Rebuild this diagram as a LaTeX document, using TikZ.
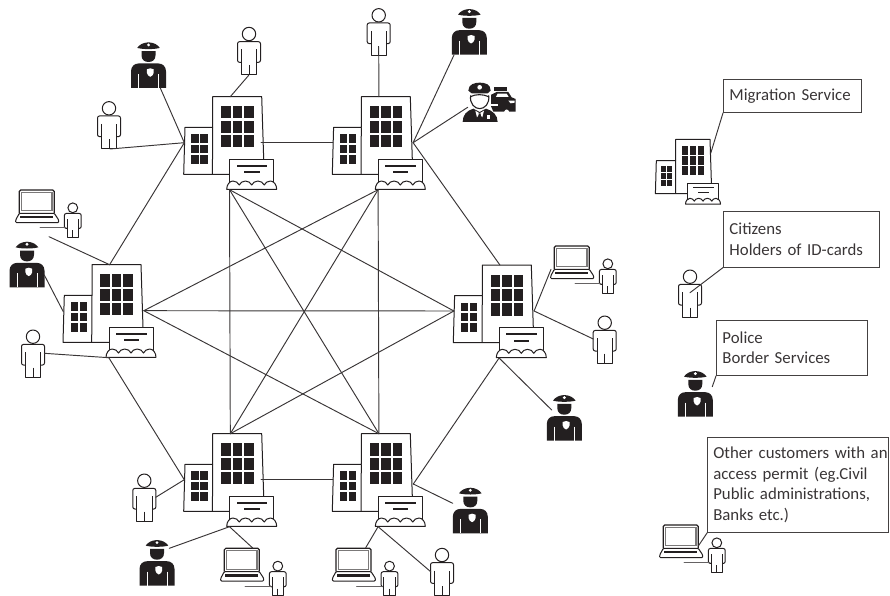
\documentclass[tikz,border=0pt]{standalone}
\usepackage{fontspec}
\setmainfont[WordSpace=0.6]{Carlito}
\definecolor{ink}{HTML}{231F20}
\tikzset{
  ln/.style={draw=ink!90!white,line width=0.95pt,line cap=round},
  outl/.style={draw=ink,line width=1pt,line join=round},
  lbl/.style={draw=ink!85!white,line width=0.9pt,anchor=north west,inner xsep=6pt,inner ysep=0pt,align=left,
    font=\fontsize{16.8}{20.5}\selectfont,text=ink!90!white},
  building/.pic={
    \draw[outl,fill=white] (-27.7,30.6) -- (0,30.6) -- (0,0) -- (49,0) -- (51,62.6) -- (51,77.6) -- (-29,77.6) -- cycle;
    \draw[outl] (0,30.6) -- (-0.3,77.6);
    \foreach \c in {0,1,2} \foreach \r in {0,1,2}
      \fill[ink] (8.3+11.5*\c,9.6+14.35*\r) rectangle +(9.5,12.2);
    \foreach \c in {0,1} \foreach \r in {0,1,2}
      \fill[ink] (-21.4+9*\c,37.6+10.35*\r) rectangle +(7.2,8.5);
    \draw[outl,fill=white] (17,86) -- (17,62.6) -- (61,62.6) -- (61,86);
    \draw[outl,fill=white] (14,92.6) .. controls (14,88) and (17,84.3) .. (20.2,84.3)
      .. controls (23,84.3) and (25.5,86) .. (26.5,88.3)
      .. controls (27.5,86) and (30,84.3) .. (32.7,84.3)
      .. controls (35.5,84.3) and (38,86) .. (39,88.3)
      .. controls (40,86) and (42.5,84.3) .. (45.2,84.3)
      .. controls (48,84.3) and (50.5,86) .. (51.5,88.3)
      .. controls (52.5,86) and (55,84.3) .. (57.7,84.3)
      .. controls (61,84.3) and (64,88) .. (64,92.6) -- cycle;
    \fill[ink] (24,68) rectangle (54.6,70);
    \fill[ink] (31.6,74.7) rectangle (47,76.5);
    \coordinate (-l) at (-28.4,46);
    \coordinate (-r) at (48.5,46);
    \coordinate (-o) at (51.8,46);
    \coordinate (-t) at (17.6,0);
    \coordinate (-s) at (16.8,93);
  },
  person/.pic={
    \draw[outl] (0,0) circle (6.7);
    \draw[outl,rounded corners=2pt] (-7.7,28.3) -- (-11.5,28.3) -- (-11.5,7.7) -- (11.5,7.7) -- (11.5,28.3) -- (7.7,28.3);
    \draw[outl] (-7.7,15.5) -- (-7.7,40.7) -- (7.7,40.7) -- (7.7,15.5);
    \draw[outl] (0,31) -- (0,40.7);
  },
  officer/.pic={
    \fill[ink] (-11.3,5.6) .. controls (-9,2.5) and (-6,0.4) .. (0,0)
      .. controls (6,0.4) and (9,2.5) .. (11.3,5.6) .. controls (6,7.2) and (-6,7.2) .. (-11.3,5.6) -- cycle;
    \fill[white] (0,2.6) circle (1.6);
    \fill[ink] (-7,8.8) -- (7,8.8) -- (7,13) .. controls (7,17.5) and (4,19.7) .. (0,19.7)
      .. controls (-4,19.7) and (-7,17.5) .. (-7,13) -- cycle;
    \fill[ink] (-17.5,45.7) -- (-17.5,29) .. controls (-17.5,24) and (-14,21.2) .. (-10,21.2)
      -- (10,21.2) .. controls (14,21.2) and (17.5,24) .. (17.5,29) -- (17.5,45.7) -- cycle;
    \draw[white,line width=1pt] (-10,31.7) -- (-10,45.7) (10,31.7) -- (10,45.7);
    \fill[white] (-1.6,27) -- (1.8,26) -- (5.2,27) -- (5.2,30.5) .. controls (5,32.5) and (3.5,33.7) .. (1.8,34.5)
      .. controls (0,33.7) and (-1.4,32.5) .. (-1.6,30.5) -- cycle;
  },
  laptop/.pic={
    \draw[ink,line width=1.2pt,rounded corners=1.5pt,fill=white] (0,23.3) -- (0,0) -- (35,0) -- (35,23.3);
    \draw[ink!60!white,line width=1.1pt] (2.3,2.3) rectangle (32.7,20.8);
    \draw[outl,rounded corners=1pt,fill=white] (0,23.3) -- (-3.6,30) -- (-3.6,32.7) -- (39.4,32.7) -- (39.4,30) -- (35,23.3) -- cycle;
    \fill[ink] (1,25.8) rectangle (34,28.3);
    \pic[scale=0.73] at (53.5,17.8) {person};
    \draw[ln,ink!70!white] (20.7,37.8) -- (46.5,37.8);
  },
}
\begin{document}
\begin{tikzpicture}[x=1pt,y=-1pt]
\useasboundingbox (0,0) rectangle (890,596);
% buildings
\pic (b1) at (212.7,96.7) {building};
\pic (b2) at (361.3,96.7) {building};
\pic (b3) at (92,264.7) {building};
\pic (b4) at (482.3,265) {building};
\pic (b5) at (212.7,433.7) {building};
\pic (b6) at (361.3,433.7) {building};
\pic[scale=0.7] (bl) at (675.7,139.3) {building};
% persons
\pic at (249,34) {person};
\pic at (109,108.3) {person};
\pic at (378.7,15.3) {person};
\pic at (33,336.7) {person};
\pic at (144.3,480.7) {person};
\pic at (442,555) {person};
\pic at (604.7,322.7) {person};
\pic at (690,276.7) {person};
% officers
\pic at (148.5,42.3) {officer};
\pic at (469.3,9) {officer};
\pic at (27,241.7) {officer};
\pic at (157,540) {officer};
\pic at (470.3,487.7) {officer};
\pic at (564.3,395) {officer};
\pic at (695.3,371) {officer};
% laptops
\pic at (19.3,190) {laptop};
\pic at (554.3,246) {laptop};
\pic at (224.3,548.3) {laptop};
\pic at (336,548.3) {laptop};
\pic at (663.3,525) {laptop};
% officer with patrol car
\begin{scope}[shift={(320,0)},x=0.3333pt,y=-0.3333pt]
  \fill[ink] (523,262) rectangle (562,272);
  \fill[ink] (512,285) -- (530,276) -- (565,276) -- (575,292) -- (587,297) -- (587,335) -- (568,335)
    .. controls (565,326) and (555,326) .. (552,335) -- (520,335) -- (505,300) -- cycle;
  \fill[white] (533,281) -- (560,281) -- (566,291) -- (528,291) -- cycle;
  \fill[white] (565,302) -- (584,302) -- (584,308) -- (572,310) -- cycle;
  \fill[white] (512,312) rectangle (534,317);
  \fill[white] (446,285) -- (512,285) -- (512,345) -- (446,345) -- cycle;
  \fill[ink] (445,272) .. controls (445,252) and (465,248) .. (479,248)
    .. controls (495,248) and (512,252) .. (512,272) -- (503,280) -- (455,280) -- cycle;
  \fill[white] (479,262) circle (7);
  \draw[ink,line width=1.1pt] (452,286) .. controls (448,312) and (465,326) .. (479,326)
    .. controls (493,326) and (510,312) .. (506,286);
  \draw[ink,line width=1.1pt] (452,290) .. controls (465,282) and (490,282) .. (506,290);
  \fill[ink] (428,366) .. controls (428,345) and (440,332) .. (460,326) -- (479,336) -- (498,326)
    .. controls (518,332) and (533,345) .. (533,366) -- cycle;
  \fill[white] (466,332) -- (479,340) -- (492,332) -- (487,352) -- (479,342) -- (471,352) -- cycle;
  \fill[ink] (476,340) -- (482,340) -- (484,366) -- (474,366) -- cycle;
  \fill[white] (500,345) rectangle (511,358);
\end{scope}
% spoke ends
\coordinate (a1) at (248.7,75.3);
\coordinate (a2) at (160.3,88);
\coordinate (a3) at (110,149);
\coordinate (a4) at (378.7,46.7);
\coordinate (a5) at (454,55);
\coordinate (a6) at (467.7,107.3);
\coordinate (a7) at (49,236.7);
\coordinate (a8) at (44.3,275);
\coordinate (a9) at (44.3,353.3);
\coordinate (a10) at (551,269.3);
\coordinate (a11) at (593.3,339);
\coordinate (a12) at (551.7,410);
\coordinate (a13) at (155.7,497.3);
\coordinate (a14) at (169.3,548.3);
\coordinate (a15) at (252.7,548);
\coordinate (a16) at (365.7,547.7);
\coordinate (a17) at (430.7,571.7);
\coordinate (a18) at (452.7,503.3);
\coordinate (b3left) at (63.3,311.7);
\coordinate (b6out) at (413.3,484);
% ring
\draw[ln] (b1-r) -- (b2-l);
\draw[ln] (b1-l) -- (b3-t);
\draw[ln] (b3-s) -- (b5-l);
\draw[ln] (b5-r) -- (b6-l);
\draw[ln] (b6out) -- (b4-s);
\draw[ln] (b4-t) -- (b2-o);
% mesh
\draw[ln] (b1-s) -- (b5-t);
\draw[ln] (b1-s) -- (b4-l);
\draw[ln] (b1-s) -- (b6-t);
\draw[ln] (b2-s) -- (b6-t);
\draw[ln] (b2-s) -- (b3-o);
\draw[ln] (b2-s) -- (b5-t);
\draw[ln] (b3-o) -- (b4-l);
\draw[ln] (b3-o) -- (b6-t);
\draw[ln] (b4-l) -- (b5-t);
% spokes
\draw[ln] (a1) -- (b1-t);
\draw[ln] (a2) -- (b1-l);
\draw[ln] (a3) -- (b1-l);
\draw[ln] (a4) -- (b2-t);
\draw[ln] (a5) -- (b2-o);
\draw[ln] (a6) -- (b2-o);
\draw[ln] (a7) -- (b3-t);
\draw[ln] (a8) -- (b3left);
\draw[ln] (a9) -- (b3-s);
\draw[ln] (a10) -- (b4-o);
\draw[ln] (a11) -- (b4-o);
\draw[ln] (a12) -- (b4-s);
\draw[ln] (a13) -- (b5-l);
\draw[ln] (a14) -- (b5-s);
\draw[ln] (a15) -- (b5-s);
\draw[ln] (a16) -- (b6-s);
\draw[ln] (a17) -- (b6-s);
\draw[ln] (a18) -- (b6out);
% legend
\node[lbl,text width=125.7pt,minimum height=33pt] (m) at (723,79) {Migration Service};
\node[lbl,text width=144.3pt,minimum height=56pt] (c) at (723,210.7) {Citizens\\Holders of ID-cards};
\node[lbl,text width=138.7pt,minimum height=55pt] (p) at (716,320) {Police\\Border Services};
\node[lbl,text width=170pt,inner xsep=5.5pt,minimum height=95pt] (o) at (707.3,436.7) {\makebox[170pt][l]{Other customers with an}\\access permit (eg.Civil\\Public administrations,\\Banks etc.)};
\coordinate (lb) at (710.7,153.3);
\coordinate (lc) at (690,292.7);
\coordinate (lp) at (712.3,386.7);
\coordinate (ll) at (698.3,546);
\draw[ln] (m.south west) -- (lb);
\draw[ln] (c.south west) -- (lc);
\draw[ln] (p.south west) -- (lp);
\draw[ln] (o.south west) -- (ll);
\end{tikzpicture}
\end{document}
